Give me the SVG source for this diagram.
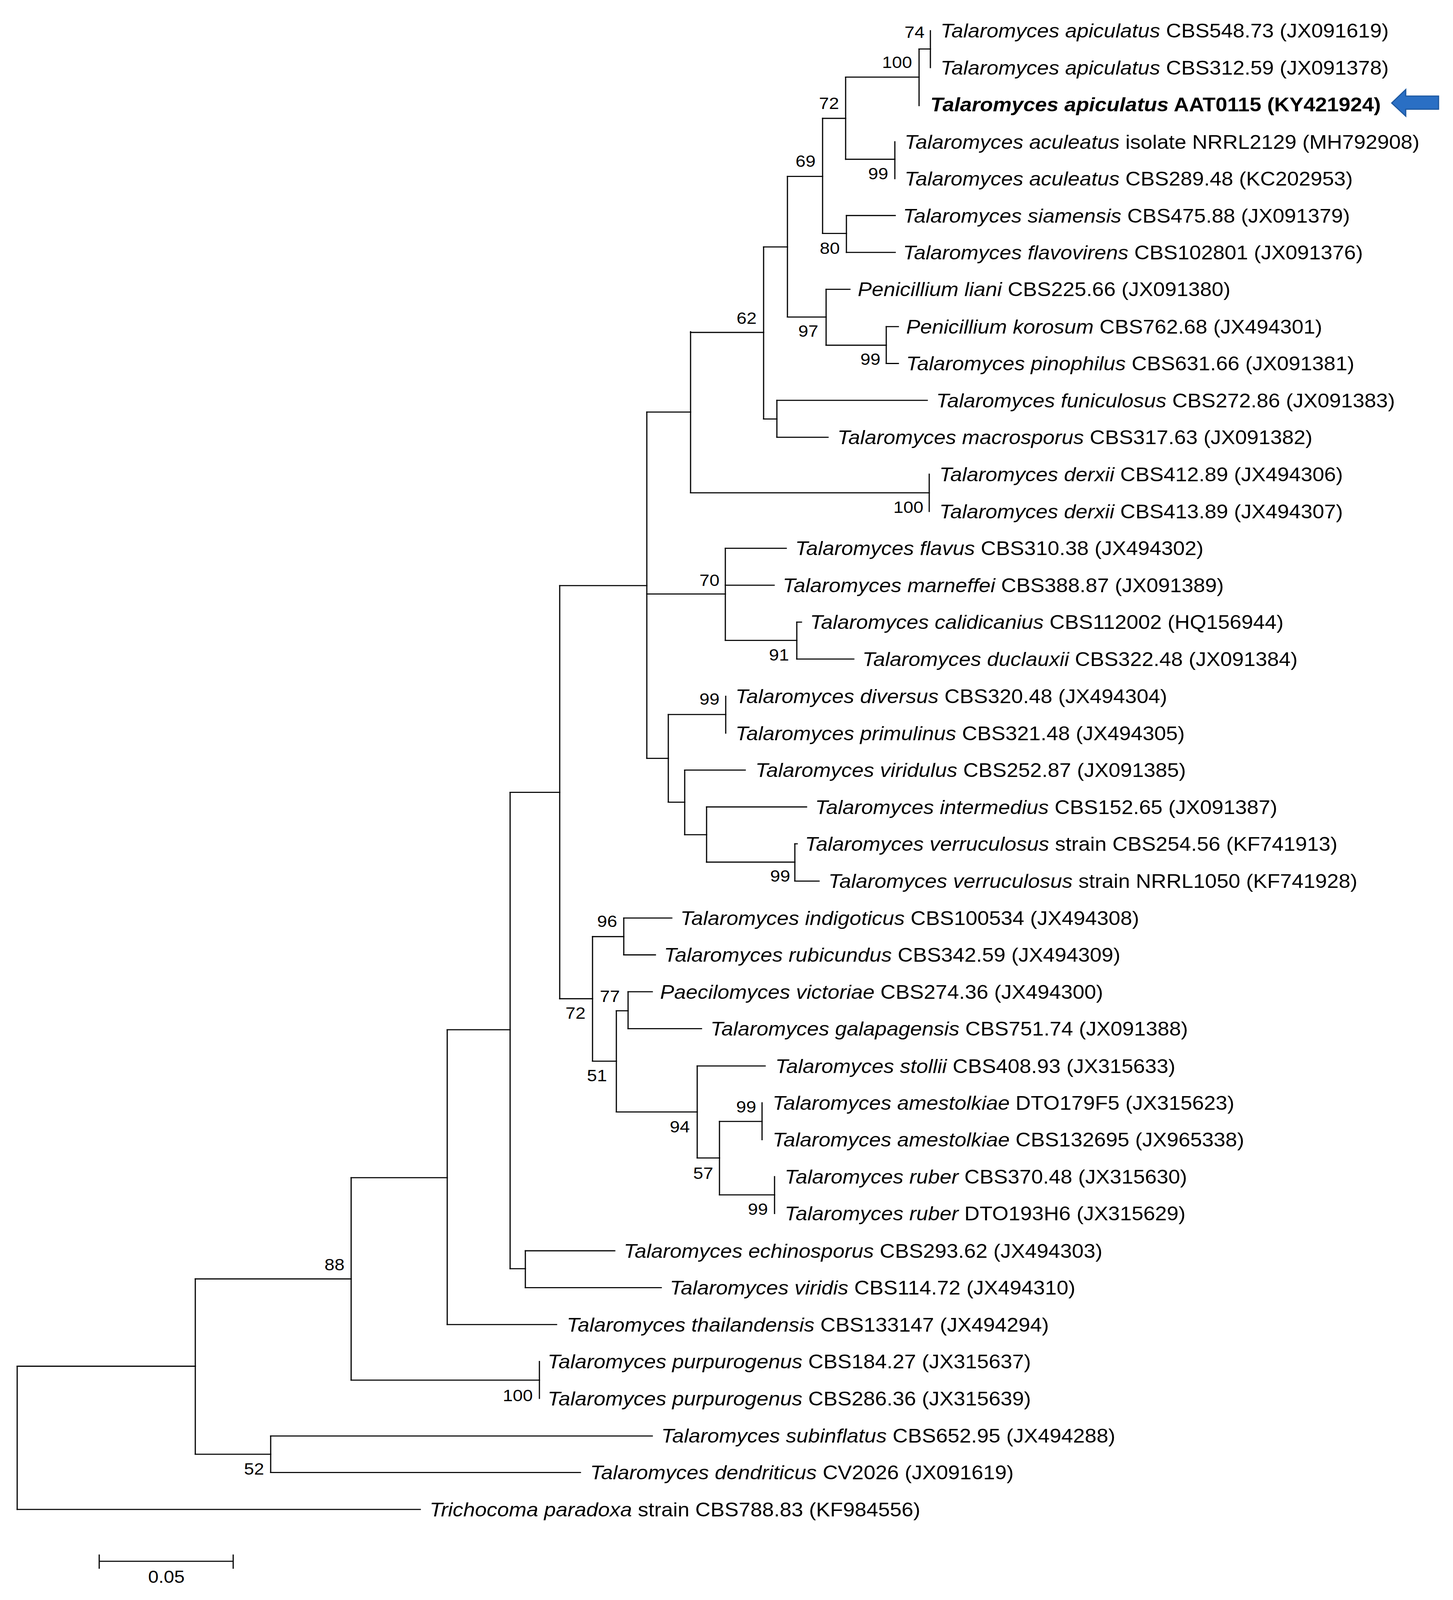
<svg xmlns="http://www.w3.org/2000/svg" width="3720" height="4380" viewBox="0 0 3720 4380">
<style>
.br{stroke:#000;stroke-width:3;fill:none;stroke-linecap:square}
.tx{font-family:"Liberation Sans",Arial,sans-serif;font-size:54px;fill:#000}
.bs{font-family:"Liberation Sans",Arial,sans-serif;font-size:46px;fill:#000;text-anchor:end}
.it{font-style:italic}
.bd{font-weight:bold}
.sc{font-family:"Liberation Sans",Arial,sans-serif;font-size:48px;fill:#000;text-anchor:middle}
</style>
<rect width="3720" height="4380" fill="#fff"/>
<g id="tree" transform="scale(1,0.93516)">
<g id="connectors">
<path class="br" d="M44,3740V4132M500,3501V3981M899,3224V3778M693,3931V4031M1381,3727V3828M1145,2819V3626M1306,2169V3473M1345,3424V3525M1433,1603V2734M1656,1128V2076M1768,908V1349M1955,676V1147M2016,483V868M2106,324V639M2165,211V436M2353,134V289M2382,84V185M2291,388V489M2167,590V691M2115,792V945M2269,894V995M1989,1096V1197M2379,1298V1400M1857,1501V1753M2040,1703V1804M1711,1956V2196M1858,1906V2007M1753,2108V2285M1809,2209V2360M2035,2310V2412M1517,2564V2905M1597,2513V2614M1578,2767V3044M1608,2715V2816M1785,2918V3170M1842,3070V3271M1951,3019V3120M1983,3221V3322"/>
<path class="br" d="M44,3740H500M44,4132H1076M500,3501H899M500,3981H693M693,3931H1670M693,4031H1486M899,3224H1145M899,3778H1381M1145,2819H1306M1145,3626H1425M1306,2169H1433M1306,3473H1345M1345,3424H1574M1345,3525H1693M1433,1603H1656M1433,2734H1517M1656,1128H1768M1656,1626H1857M1656,2076H1711M1768,910H1955M1768,1349H2379M1955,676H2016M1955,1147H1989M1989,1096H2374M1989,1197H2120M2016,483H2106M2016,868H2115M2106,324H2165M2106,639H2167M2165,211H2353M2165,436H2291M2353,134H2382M2167,590H2292M2167,691H2292M2115,792H2176M2115,945H2269M2269,894H2300M2269,995H2300M1857,1501H2013M1857,1602H1982M1857,1753H2040M2040,1703H2052M2040,1804H2186M1711,1956H1858M1711,2196H1753M1753,2108H1908M1753,2285H1809M1809,2209H2065M1809,2360H2035M2035,2310H2041M2035,2412H2097M1517,2564H1597M1517,2905H1578M1597,2513H1720M1597,2614H1678M1578,2767H1608M1578,3044H1785M1608,2715H1670M1608,2816H1796M1785,2918H1959M1785,3170H1842M1842,3070H1951M1842,3271H1983"/>
</g>
<g id="taxa">
<g id="t01"><text class="tx" x="2408" y="103"><tspan class="it">Talaromyces apiculatus</tspan> CBS548.73 (JX091619)</text></g>
<g id="t02"><text class="tx" x="2408" y="204"><tspan class="it">Talaromyces apiculatus</tspan> CBS312.59 (JX091378)</text></g>
<g id="t03"><text class="tx bd" x="2382" y="305"><tspan class="it">Talaromyces apiculatus</tspan> AAT0115 (KY421924)</text></g>
<g id="t04"><text class="tx" x="2316" y="407"><tspan class="it">Talaromyces aculeatus</tspan> isolate NRRL2129 (MH792908)</text></g>
<g id="t05"><text class="tx" x="2316" y="508"><tspan class="it">Talaromyces aculeatus</tspan> CBS289.48 (KC202953)</text></g>
<g id="t06"><text class="tx" x="2312" y="609"><tspan class="it">Talaromyces siamensis</tspan> CBS475.88 (JX091379)</text></g>
<g id="t07"><text class="tx" x="2312" y="710"><tspan class="it">Talaromyces flavovirens</tspan> CBS102801 (JX091376)</text></g>
<g id="t08"><text class="tx" x="2196" y="811"><tspan class="it">Penicillium liani</tspan> CBS225.66 (JX091380)</text></g>
<g id="t09"><text class="tx" x="2320" y="913"><tspan class="it">Penicillium korosum</tspan> CBS762.68 (JX494301)</text></g>
<g id="t10"><text class="tx" x="2320" y="1014"><tspan class="it">Talaromyces pinophilus</tspan> CBS631.66 (JX091381)</text></g>
<g id="t11"><text class="tx" x="2397" y="1115"><tspan class="it">Talaromyces funiculosus</tspan> CBS272.86 (JX091383)</text></g>
<g id="t12"><text class="tx" x="2144" y="1216"><tspan class="it">Talaromyces macrosporus</tspan> CBS317.63 (JX091382)</text></g>
<g id="t13"><text class="tx" x="2405" y="1317"><tspan class="it">Talaromyces derxii</tspan> CBS412.89 (JX494306)</text></g>
<g id="t14"><text class="tx" x="2405" y="1419"><tspan class="it">Talaromyces derxii</tspan> CBS413.89 (JX494307)</text></g>
<g id="t15"><text class="tx" x="2036" y="1520"><tspan class="it">Talaromyces flavus</tspan> CBS310.38 (JX494302)</text></g>
<g id="t16"><text class="tx" x="2004" y="1621"><tspan class="it">Talaromyces marneffei</tspan> CBS388.87 (JX091389)</text></g>
<g id="t17"><text class="tx" x="2074" y="1722"><tspan class="it">Talaromyces calidicanius</tspan> CBS112002 (HQ156944)</text></g>
<g id="t18"><text class="tx" x="2208" y="1823"><tspan class="it">Talaromyces duclauxii</tspan> CBS322.48 (JX091384)</text></g>
<g id="t19"><text class="tx" x="1883" y="1925"><tspan class="it">Talaromyces diversus</tspan> CBS320.48 (JX494304)</text></g>
<g id="t20"><text class="tx" x="1883" y="2026"><tspan class="it">Talaromyces primulinus</tspan> CBS321.48 (JX494305)</text></g>
<g id="t21"><text class="tx" x="1934" y="2127"><tspan class="it">Talaromyces viridulus</tspan> CBS252.87 (JX091385)</text></g>
<g id="t22"><text class="tx" x="2087" y="2228"><tspan class="it">Talaromyces intermedius</tspan> CBS152.65 (JX091387)</text></g>
<g id="t23"><text class="tx" x="2061" y="2329"><tspan class="it">Talaromyces verruculosus</tspan> strain CBS254.56 (KF741913)</text></g>
<g id="t24"><text class="tx" x="2121" y="2431"><tspan class="it">Talaromyces verruculosus</tspan> strain NRRL1050 (KF741928)</text></g>
<g id="t25"><text class="tx" x="1742" y="2532"><tspan class="it">Talaromyces indigoticus</tspan> CBS100534 (JX494308)</text></g>
<g id="t26"><text class="tx" x="1700" y="2633"><tspan class="it">Talaromyces rubicundus</tspan> CBS342.59 (JX494309)</text></g>
<g id="t27"><text class="tx" x="1690" y="2734"><tspan class="it">Paecilomyces victoriae</tspan> CBS274.36 (JX494300)</text></g>
<g id="t28"><text class="tx" x="1819" y="2835"><tspan class="it">Talaromyces galapagensis</tspan> CBS751.74 (JX091388)</text></g>
<g id="t29"><text class="tx" x="1985" y="2937"><tspan class="it">Talaromyces stollii</tspan> CBS408.93 (JX315633)</text></g>
<g id="t30"><text class="tx" x="1978" y="3038"><tspan class="it">Talaromyces amestolkiae</tspan> DTO179F5 (JX315623)</text></g>
<g id="t31"><text class="tx" x="1978" y="3139"><tspan class="it">Talaromyces amestolkiae</tspan> CBS132695 (JX965338)</text></g>
<g id="t32"><text class="tx" x="2009" y="3240"><tspan class="it">Talaromyces ruber</tspan> CBS370.48 (JX315630)</text></g>
<g id="t33"><text class="tx" x="2009" y="3341"><tspan class="it">Talaromyces ruber</tspan> DTO193H6 (JX315629)</text></g>
<g id="t34"><text class="tx" x="1597" y="3443"><tspan class="it">Talaromyces echinosporus</tspan> CBS293.62 (JX494303)</text></g>
<g id="t35"><text class="tx" x="1715" y="3544"><tspan class="it">Talaromyces viridis</tspan> CBS114.72 (JX494310)</text></g>
<g id="t36"><text class="tx" x="1451" y="3645"><tspan class="it">Talaromyces thailandensis</tspan> CBS133147 (JX494294)</text></g>
<g id="t37"><text class="tx" x="1402" y="3746"><tspan class="it">Talaromyces purpurogenus</tspan> CBS184.27 (JX315637)</text></g>
<g id="t38"><text class="tx" x="1402" y="3847"><tspan class="it">Talaromyces purpurogenus</tspan> CBS286.36 (JX315639)</text></g>
<g id="t39"><text class="tx" x="1693" y="3949"><tspan class="it">Talaromyces subinflatus</tspan> CBS652.95 (JX494288)</text></g>
<g id="t40"><text class="tx" x="1511" y="4050"><tspan class="it">Talaromyces dendriticus</tspan> CV2026 (JX091619)</text></g>
<g id="t41"><text class="tx" x="1100" y="4151"><tspan class="it">Trichocoma paradoxa</tspan> strain CBS788.83 (KF984556)</text></g>
</g>
<g id="bootstrap">
<text class="bs" x="2367" y="104">74</text>
<text class="bs" x="2335" y="186">100</text>
<text class="bs" x="2148" y="298">72</text>
<text class="bs" x="2274" y="491">99</text>
<text class="bs" x="2088" y="457">69</text>
<text class="bs" x="2150" y="695">80</text>
<text class="bs" x="2095" y="922">97</text>
<text class="bs" x="2254" y="999">99</text>
<text class="bs" x="1937" y="886">62</text>
<text class="bs" x="2364" y="1404">100</text>
<text class="bs" x="1842" y="1604">70</text>
<text class="bs" x="2020" y="1808">91</text>
<text class="bs" x="1842" y="1929">99</text>
<text class="bs" x="2023" y="2414">99</text>
<text class="bs" x="1580" y="2538">96</text>
<text class="bs" x="1499" y="2789">72</text>
<text class="bs" x="1587" y="2743">77</text>
<text class="bs" x="1554" y="2960">51</text>
<text class="bs" x="1766" y="3100">94</text>
<text class="bs" x="1936" y="3045">99</text>
<text class="bs" x="1826" y="3227">57</text>
<text class="bs" x="1966" y="3326">99</text>
<text class="bs" x="882" y="3478">88</text>
<text class="bs" x="1364" y="3836">100</text>
<text class="bs" x="676" y="4037">52</text>
</g>
<g id="arrow">
<polygon points="3563,282 3599,245 3599,263 3683,263 3683,299 3599,299 3599,318" fill="#2a6fc4" stroke="#1d58a0" stroke-width="3" stroke-linejoin="miter"/>
</g>
<g id="scalebar">
<path class="br" d="M254,4274H597M254,4257V4293M597,4257V4293"/>
<text class="sc" x="426" y="4333">0.05</text>
</g>
</g>
</svg>
